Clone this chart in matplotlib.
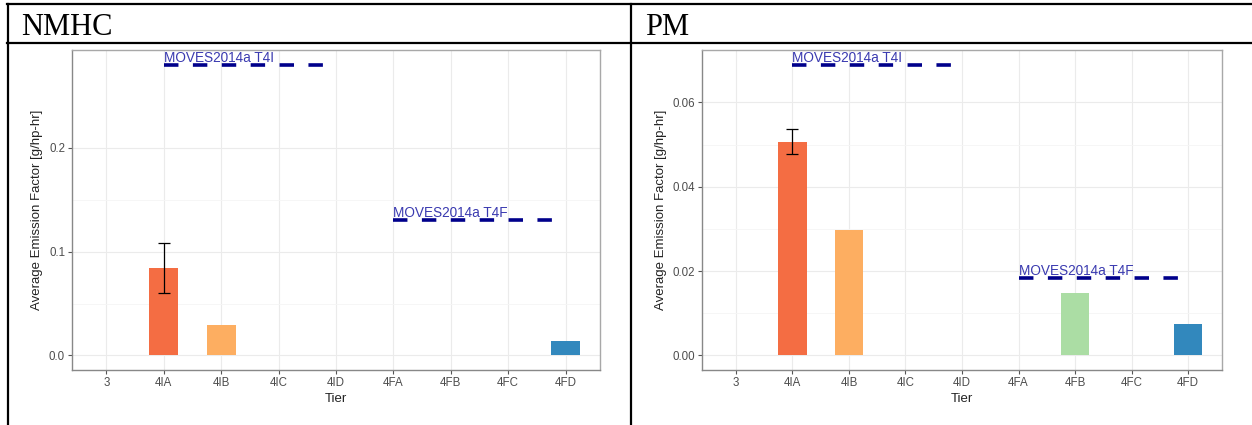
import matplotlib
matplotlib.use("Agg")
import matplotlib.pyplot as plt
from matplotlib.lines import Line2D

# ---- data -------------------------------------------------------------
tiers = ["3", "4IA", "4IB", "4IC", "4ID", "4FA", "4FB", "4FC", "4FD"]
tier_colors = ["#d53e4f", "#f46d43", "#fdae61", "#fee08b", "#ffffbf",
               "#e6f598", "#abdda4", "#66c2a5", "#3288bd"]

nmhc_tiers = ["4IA", "4IB", "4FD"]
nmhc_values = [0.084, 0.029, 0.014]
nmhc_err_low = [0.060, None, None]
nmhc_err_high = [0.108, None, None]
nmhc_ticks = [0.0, 0.1, 0.2]
nmhc_ticklabels = ["0.0", "0.1", "0.2"]
nmhc_t4i = 0.28
nmhc_t4f = 0.13

pm_tiers = ["4IA", "4IB", "4FB", "4FD"]
pm_values = [0.0507, 0.0298, 0.0147, 0.0074]
pm_err_low = [0.0478, None, None, None]
pm_err_high = [0.0537, None, None, None]
pm_ticks = [0.00, 0.02, 0.04, 0.06]
pm_ticklabels = ["0.00", "0.02", "0.04", "0.06"]
pm_t4i = 0.069
pm_t4f = 0.0184

t4i_span = ("4IA", "4ID")
t4f_span = ("4FA", "4FD")
t4i_label = "MOVES2014a T4I"
t4f_label = "MOVES2014a T4F"

panel_titles = ["NMHC", "PM"]
x_title = "Tier"
y_title = "Average Emission Factor [g/hp-hr]"

# ---- figure -----------------------------------------------------------
W, H = 1252, 425
fig = plt.figure(figsize=(W / 100, H / 100), dpi=100)
fig.patch.set_facecolor("white")

SANS = ["Liberation Sans", "DejaVu Sans"]
SERIF = ["Liberation Serif", "DejaVu Serif"]


def px_rect(x0, y0, x1, y1):
    """Figure-fraction rectangle from pixel edges (origin at top-left)."""
    return [x0 / W, (H - y1) / H, (x1 - x0) / W, (y1 - y0) / H]


def fx(x):
    return x / W


def fy(y):
    return (H - y) / H


def draw_panel(ax, cats, vals, elo, ehi, ticks, ticklabels, t4i, t4f):
    pos = {t: i for i, t in enumerate(tiers)}
    # grid
    for i in range(len(tiers)):
        ax.axvline(i, color="#ebebeb", lw=0.8, zorder=0)
    for t in ticks:
        ax.axhline(t, color="#ebebeb", lw=0.8, zorder=0)
    for a, b in zip(ticks[:-1], ticks[1:]):
        ax.axhline((a + b) / 2, color="#f5f5f5", lw=0.6, zorder=0)

    xs = [pos[c] for c in cats]
    cols = [tier_colors[pos[c]] for c in cats]
    ax.bar(xs, vals, width=0.5, color=cols, zorder=2)
    for x, lo, hi in zip(xs, elo, ehi):
        if lo is None:
            continue
        ax.errorbar([x], [(lo + hi) / 2], yerr=[[(hi - lo) / 2]],
                    fmt="none", ecolor="black", elinewidth=0.9,
                    capsize=4.5, capthick=0.9, zorder=3)

    for (a, b), yv, lab in ((t4i_span, t4i, t4i_label),
                            (t4f_span, t4f, t4f_label)):
        ln, = ax.plot([pos[a], pos[b]], [yv, yv], color="#00008b",
                      lw=2.6, solid_capstyle="butt", zorder=4)
        ln.set_dashes((4.0, 4.0))
        ln.set_dash_capstyle("butt")
        ax.text(pos[a], yv, lab, ha="left", va="bottom", fontsize=9.8,
                color="#3a3ab0", family=SANS, zorder=5)

    ymax = max(max(vals), max(h for h in ehi if h is not None), t4i, t4f)
    pad = 0.05 * ymax
    ax.set_ylim(-pad, ymax + pad)
    ax.set_xlim(-0.6, len(tiers) - 0.4)
    ax.set_xticks(range(len(tiers)))
    ax.set_xticklabels(tiers)
    ax.set_yticks(ticks)
    ax.set_yticklabels(ticklabels)
    ax.tick_params(axis="both", length=3, width=0.8, color="#555555",
                   labelsize=8.3, labelcolor="#4d4d4d", pad=2)
    for lab in ax.get_xticklabels() + ax.get_yticklabels():
        lab.set_family(SANS)
    for s in ax.spines.values():
        s.set_color("#a8a8a8")
        s.set_linewidth(1.0)
    ax.spines["left"].set_color("#888888")
    ax.spines["bottom"].set_color("#888888")
    ax.set_xlabel(x_title, fontsize=9.5, family=SANS, color="#222222",
                  labelpad=3)
    ax.set_ylabel(y_title, fontsize=9.5, family=SANS, color="#222222",
                  labelpad=4)
    ax.set_facecolor("white")


ax1 = fig.add_axes(px_rect(72, 50, 600, 370))
draw_panel(ax1, nmhc_tiers, nmhc_values, nmhc_err_low, nmhc_err_high,
           nmhc_ticks, nmhc_ticklabels, nmhc_t4i, nmhc_t4f)

ax2 = fig.add_axes(px_rect(702, 50, 1222, 370))
draw_panel(ax2, pm_tiers, pm_values, pm_err_low, pm_err_high,
           pm_ticks, pm_ticklabels, pm_t4i, pm_t4f)

# ---- table frame and headers -----------------------------------------
frame_kw = dict(color="black", lw=1.6, transform=fig.transFigure,
                solid_capstyle="projecting")
fig.add_artist(Line2D([fx(7), fx(1252)], [fy(4), fy(4)], **frame_kw))
fig.add_artist(Line2D([fx(7), fx(1252)], [fy(42.5), fy(42.5)], **frame_kw))
fig.add_artist(Line2D([fx(8), fx(8)], [fy(4), fy(425)], **frame_kw))
fig.add_artist(Line2D([fx(631), fx(631)], [fy(4), fy(425)], **frame_kw))

fig.text(fx(21), fy(35), panel_titles[0], family=SERIF, fontsize=22,
         ha="left", va="baseline", color="black")
fig.text(fx(645), fy(35), panel_titles[1], family=SERIF, fontsize=22,
         ha="left", va="baseline", color="black")

fig.savefig("out.png", dpi=100, facecolor="white")
